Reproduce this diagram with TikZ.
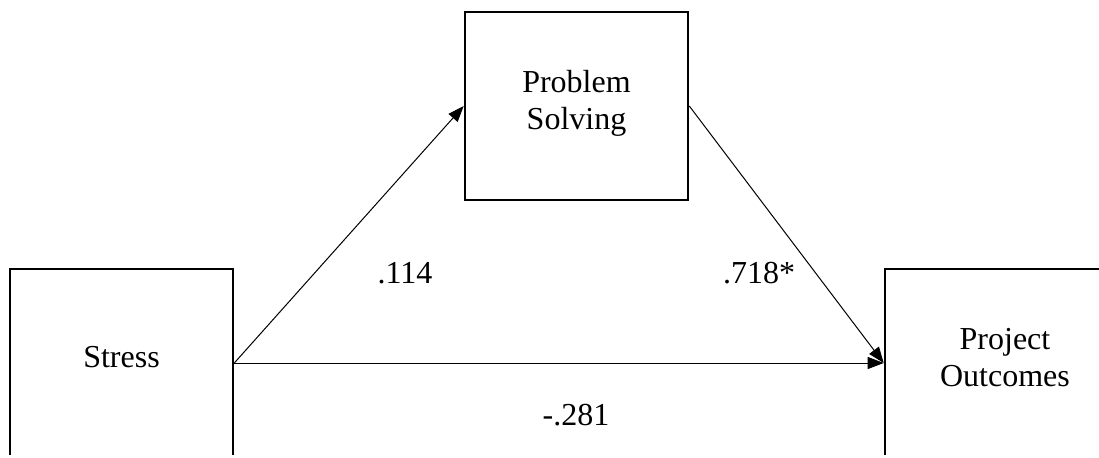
\documentclass[tikz,border=0pt]{standalone}
\usepackage{fontspec}
\setmainfont{Liberation Serif}
\usetikzlibrary{positioning, arrows.meta}

\begin{document}
\begin{tikzpicture}[x=0.5pt, y=-0.5pt,
    font=\fontsize{16}{18.5}\selectfont,
    varbox/.style={draw, line width=1.3pt, minimum width=111.5pt, minimum height=94pt, align=center, inner sep=0pt, text depth=6pt},
    effect/.style={-{Triangle[length=8pt, width=6pt]}, line width=0.5pt}]

    % ===== Frame =====
    \useasboundingbox (0, 0) rectangle (1099, 457);
    \clip (0, 0) rectangle (1099, 454);

    % ===== Variables =====
    \node[varbox] (stress) at (121.5, 363) {Stress};
    \node[varbox] (solving) at (576.5, 106) {Problem\\Solving};
    \node[varbox, minimum width=120pt] (outcomes) at (1005, 363) {Project\\Outcomes};

    % ===== Paths =====
    \draw[effect] (stress.east) -- (solving.west);
    \draw[effect] (solving.east) -- (outcomes.west);
    \draw[effect] (stress.east) -- (outcomes.west);

    % ===== Coefficients =====
    \node (coefa) at (405, 273) {.114};
    \node (coefb) at (759, 273) {.718*};
    \node (coefc) at (576, 415) {-.281};

\end{tikzpicture}
\end{document}
